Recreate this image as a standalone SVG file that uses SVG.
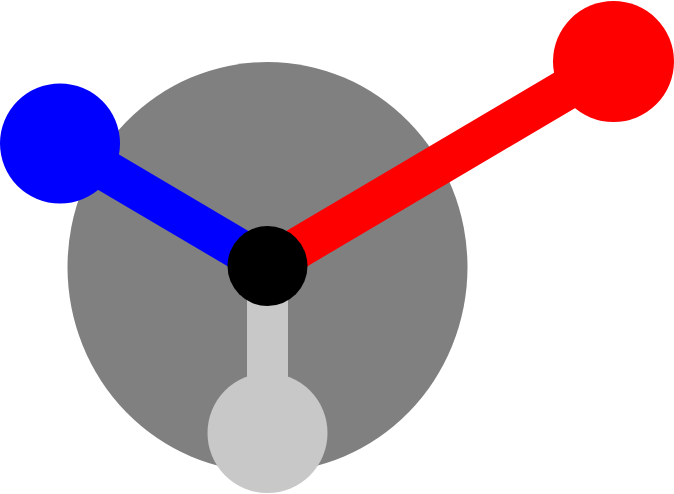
<svg xmlns="http://www.w3.org/2000/svg" width="674" height="494" viewBox="0 0 674 494">
<style>
.arm{stroke-width:41;stroke-linecap:butt;fill:none}
</style>
<rect width="674" height="494" fill="#ffffff"/>
<g id="body"><ellipse cx="267.5" cy="267" rx="200" ry="205" fill="#808080"/></g>
<g id="connectors">
<line class="arm" x1="267.5" y1="266" x2="60" y2="143.5" stroke="#0000ff"/>
<line class="arm" x1="267.5" y1="266" x2="613.5" y2="61.5" stroke="#ff0000"/>
<line class="arm" x1="267.5" y1="266" x2="267.5" y2="433" stroke="#c8c8c8"/>
</g>
<g id="blue"><circle cx="60" cy="143.5" r="60" fill="#0000ff"/></g>
<g id="red"><circle cx="613.5" cy="61.5" r="60.5" fill="#ff0000"/></g>
<g id="lightgray"><circle cx="267.5" cy="433" r="60" fill="#c8c8c8"/></g>
<g id="center"><circle cx="267.5" cy="266" r="40" fill="#000000"/></g>
</svg>
